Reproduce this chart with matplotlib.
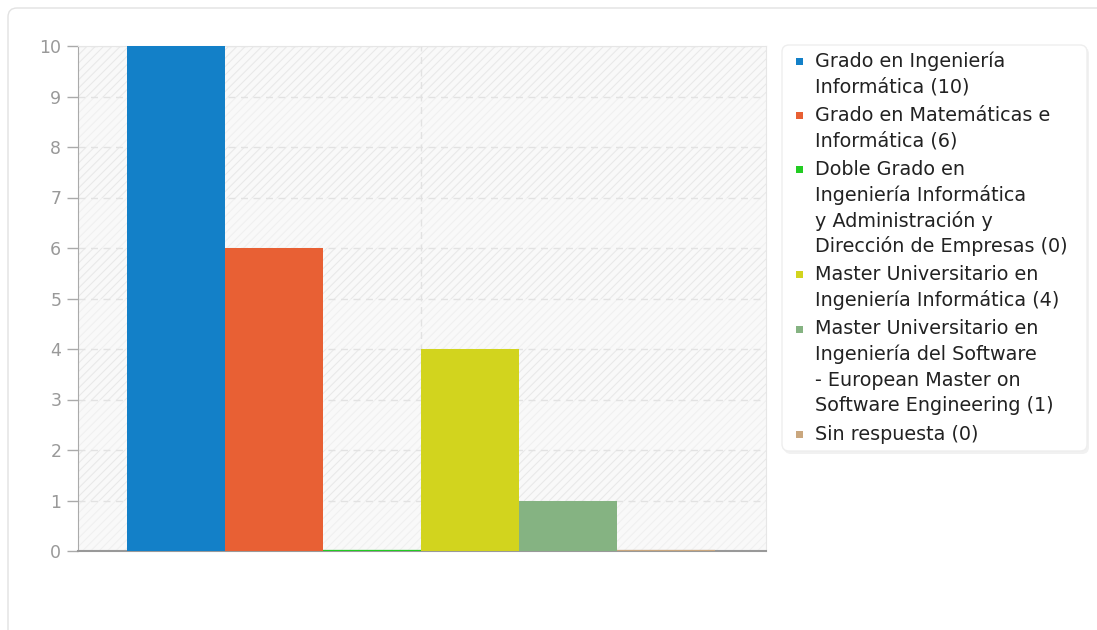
import matplotlib
matplotlib.use("Agg")
import matplotlib.pyplot as plt
from matplotlib.patches import FancyBboxPatch, Rectangle

# Datos
categorias = [
    "Grado en Ingeniería\nInformática (10)",
    "Grado en Matemáticas e\nInformática (6)",
    "Doble Grado en\nIngeniería Informática\ny Administración y\nDirección de Empresas (0)",
    "Master Universitario en\nIngeniería Informática (4)",
    "Master Universitario en\nIngeniería del Software\n- European Master on\nSoftware Engineering (1)",
    "Sin respuesta (0)",
]
valores = [10, 6, 0, 4, 1, 0]
colores = ["#1380c8", "#e86034", "#22cc22", "#d2d41e", "#85b382", "#caa77e"]
yticks = list(range(0, 11))

W, H = 1097, 630
fig = plt.figure(figsize=(W / 100, H / 100), dpi=100)
fig.patch.set_facecolor("white")

# 1 -> capa de fondo en pixeles (tarjeta)
bg = fig.add_axes([0, 0, 1, 1], zorder=0)
bg.set_xlim(0, W)
bg.set_ylim(H, 0)
bg.axis("off")
bg.add_patch(FancyBboxPatch((8, 8), 1200, 700, boxstyle="round,pad=0,rounding_size=9",
                            fc="white", ec="#e2e2e2", lw=1))

# 2 -> ejes de barras
ax = fig.add_axes([78 / W, 1 - 551 / H, 688 / W, 505 / H], zorder=1)
ax.set_facecolor("#f9f9f9")
plt.rcParams["hatch.linewidth"] = 0.8
for k in range(10):
    if k % 2 == 1:
        ax.axhspan(k, k + 1, fc="none", ec="#e9e9e9", hatch="////", lw=0, zorder=0)
    else:
        ax.axhspan(k, k + 1, fc="none", ec="#f0f0f0", hatch="////", lw=0, zorder=0)

x = list(range(len(valores)))
for xi, v, c in zip(x, valores, colores):
    ax.bar(xi, v, width=1.0, color=c, edgecolor=c if v == 0 else "none",
           linewidth=1.6 if v == 0 else 0, align="center", zorder=3)

ax.set_xlim(-1.0, 6.02)
ax.set_ylim(0, 10)
ax.set_yticks(yticks)
ax.set_xticks([2.5])
ax.set_xticklabels([])
ax.tick_params(axis="x", length=0)
ax.tick_params(axis="y", length=8, width=1, color="#aaaaaa", labelcolor="#999999",
               labelsize=12.5, pad=4)
ax.grid(True, axis="both", color="#e2e2e2", linestyle=(0, (5, 4)), linewidth=1, zorder=1)
for s in ["top", "right"]:
    ax.spines[s].set_color("#e6e6e6")
ax.spines["left"].set_color("#aaaaaa")
ax.spines["bottom"].set_color("#999999")
ax.spines["bottom"].set_linewidth(1.5)

# 3 -> leyenda dibujada a mano
lg = fig.add_axes([0, 0, 1, 1], zorder=2)
lg.set_xlim(0, W)
lg.set_ylim(H, 0)
lg.axis("off")
lg.patch.set_alpha(0)
lg.add_patch(FancyBboxPatch((784, 47), 305, 407, boxstyle="round,pad=0,rounding_size=7",
                            fc="#e8e8e8", ec="none", alpha=0.6))
lg.add_patch(FancyBboxPatch((782, 45), 305, 406, boxstyle="round,pad=0,rounding_size=7",
                            fc="white", ec="#eeeeee", lw=1))
y = 61
paso = 25.6
for cat, c in zip(categorias, colores):
    lg.add_patch(Rectangle((796, y - 3.5), 7, 7, fc=c, ec="none"))
    for linea in cat.split("\n"):
        lg.text(815, y, linea, fontsize=13.8, color="#222222", va="center", ha="left")
        y += paso
    y += 3

fig.savefig("out.png", dpi=100)
